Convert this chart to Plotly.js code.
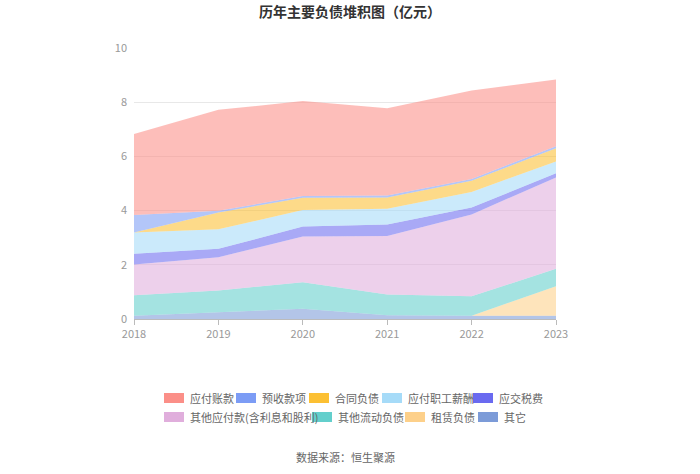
<!DOCTYPE html>
<html>
<head>
<meta charset="utf-8">
<script src="https://cdn.plot.ly/plotly-3.0.1.min.js"></script>
<style>html,body{margin:0;padding:0;background:#fff;}#chart{width:700px;height:474px;}</style>
</head>
<body>
<div id="chart"></div>
<script>
// Years (x axis)
var years = [2018, 2019, 2020, 2021, 2022, 2023];

// Series values, 亿元 (stack order bottom -> top)
var qita        = [0.12, 0.25, 0.38, 0.14, 0.12, 0.12]; // 其它
var zulin       = [0, 0, 0, 0, 0, 1.09];                 // 租赁负债
var liudong     = [0.76, 0.80, 0.98, 0.76, 0.72, 0.64]; // 其他流动负债
var qitaYingfu  = [1.13, 1.23, 1.68, 2.16, 3.02, 3.37]; // 其他应付款(含利息和股利)
var shuifei     = [0.40, 0.31, 0.37, 0.43, 0.25, 0.16]; // 应交税费
var xinchou     = [0.78, 0.72, 0.61, 0.58, 0.58, 0.43]; // 应付职工薪酬
var hetong      = [0, 0.62, 0.45, 0.41, 0.41, 0.49];    // 合同负债
var yushou      = [0.65, 0.06, 0.07, 0.08, 0.07, 0.07]; // 预收款项
var zhangkuan   = [2.99, 3.73, 3.50, 3.22, 3.26, 2.47]; // 应付账款

var names = ['其它','租赁负债','其他流动负债','其他应付款(含利息和股利)','应交税费','应付职工薪酬','合同负债','预收款项','应付账款'];
var series = [qita, zulin, liudong, qitaYingfu, shuifei, xinchou, hetong, yushou, zhangkuan];
var colors = ['124,155,216','253,208,138','99,207,204','224,174,220','106,106,240','166,219,248','252,192,51','124,156,245','251,143,136'];

var traces = series.map(function(v, i){
  return {
    x: years, y: v, name: names[i], type: 'scatter', mode: 'none',
    stackgroup: 'one', fillcolor: 'rgba(' + colors[i] + ',0.58)',
    line: {width: 0}, showlegend: false, hoverinfo: 'x+y+name'
  };
});

// Plot area in pixels (for placing the custom legend)
var W = 700, H = 474, L = 134, R = 144, T = 48, B = 155;
var pw = W - L - R, ph = H - T - B;
function px(x){ return (x - L) / pw; }
function py(y){ return (H - B - y) / ph; }

// Legend layout: [series index, swatch left px, row center px]
var legendItems = [
  [8, 164, 398], [7, 236, 398], [6, 309, 398], [5, 382, 398], [4, 473, 398],
  [3, 164, 417], [2, 312, 417], [1, 405, 417], [0, 478, 417]
];
var shapes = [], annotations = [];
legendItems.forEach(function(it){
  var i = it[0], x0 = it[1], yc = it[2];
  shapes.push({
    type: 'rect', xref: 'paper', yref: 'paper',
    x0: px(x0), x1: px(x0 + 20), y0: py(yc + 5), y1: py(yc - 5),
    fillcolor: 'rgb(' + colors[i] + ')', line: {width: 0}, layer: 'above'
  });
  annotations.push({
    text: names[i], xref: 'paper', yref: 'paper', x: px(x0 + 24), y: py(yc),
    xanchor: 'left', yanchor: 'middle', showarrow: false,
    font: {size: 11, color: '#666', family: 'Noto Sans CJK SC, sans-serif'}
  });
});
annotations.push({
  text: '数据来源：恒生聚源', xref: 'paper', yref: 'paper', x: 0.5, y: py(457),
  xanchor: 'center', yanchor: 'middle', showarrow: false,
  font: {size: 11, color: '#666', family: 'Noto Sans CJK SC, sans-serif'}
});

var layout = {
  width: W, height: H,
  margin: {l: L, r: R, t: T, b: B},
  paper_bgcolor: '#fff', plot_bgcolor: '#fff',
  font: {family: 'Noto Sans CJK SC, sans-serif', color: '#999'},
  title: {text: '<b>历年主要负债堆积图（亿元）</b>', x: 0.5, xanchor: 'center', y: 0.975, yanchor: 'middle',
          font: {size: 14, color: '#333', family: 'Noto Sans CJK SC, sans-serif'}},
  xaxis: {
    range: [2018, 2023], tickvals: years, ticktext: years.map(String),
    showgrid: false, zeroline: false, showline: true, linecolor: '#bbb', linewidth: 1,
    ticks: 'outside', ticklen: 5, tickcolor: '#bbb',
    tickfont: {size: 11, color: '#999'}
  },
  yaxis: {
    range: [0, 10], dtick: 2, showgrid: true, gridcolor: '#e8e8e8', zeroline: false,
    showline: false, ticks: '', tickfont: {size: 11, color: '#999'}, ticklabelstandoff: 6
  },
  shapes: shapes,
  annotations: annotations,
  showlegend: false
};

Plotly.newPlot('chart', traces, layout, {displayModeBar: false, staticPlot: true});
</script>
</body>
</html>
